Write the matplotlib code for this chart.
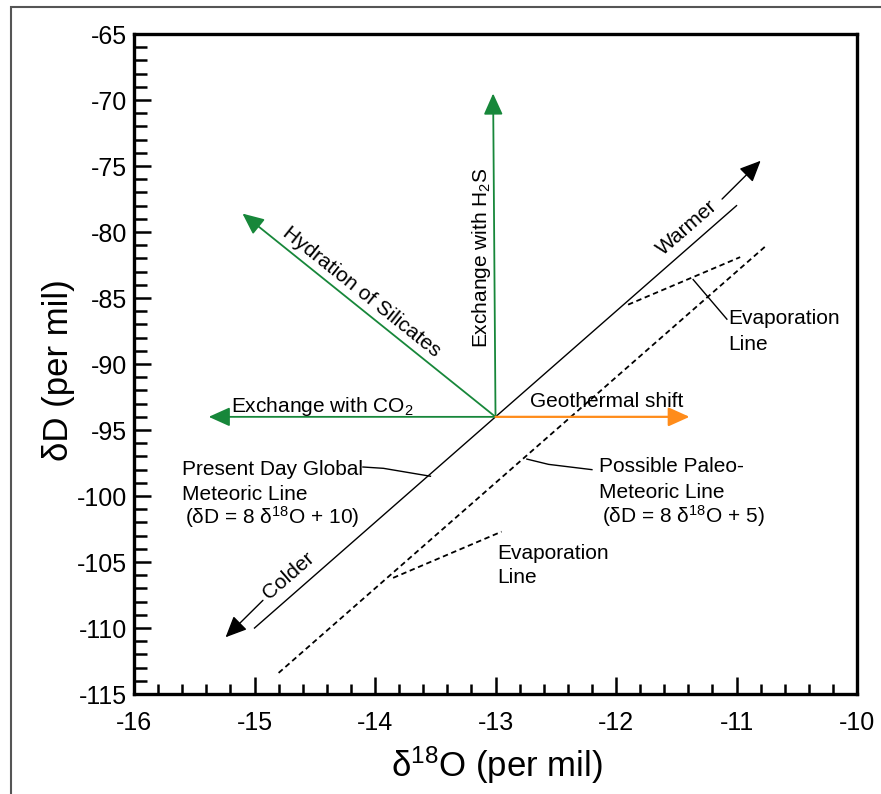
import matplotlib
matplotlib.use("Agg")
import matplotlib.pyplot as plt
from matplotlib.ticker import MultipleLocator
from matplotlib.patches import Rectangle

plt.rcParams['font.family'] = ['Liberation Sans', 'DejaVu Sans']
plt.rcParams['mathtext.fontset'] = 'custom'
plt.rcParams['mathtext.rm'] = 'Liberation Sans'
plt.rcParams['mathtext.default'] = 'regular'
plt.rcParams['axes.unicode_minus'] = False

# meteoric water lines (end points)
gmwl_x = [-15.0, -11.0]
gmwl_y = [-110.0, -78.0]
paleo_x = [-14.8, -10.75]
paleo_y = [-113.4, -81.0]

# evaporation lines
evap_upper_x = [-11.9, -10.97]
evap_upper_y = [-85.5, -81.9]
evap_lower_x = [-13.85, -12.95]
evap_lower_y = [-106.2, -102.7]

# process arrows from the common origin
origin = (-13.0, -94.0)
green_tips = [(-13.02, -69.5), (-15.1, -78.6), (-15.38, -94.0)]
geo_tip = (-11.39, -94.0)

# warmer / colder arrows (tail, tip)
warmer = [(-11.12, -77.5), (-10.80, -74.6)]
colder = [(-14.93, -107.9), (-15.24, -110.7)]

# leader lines
lead_gmwl = ([-14.10, -13.93, -13.54], [-97.8, -97.9, -98.5])
lead_paleo = ([-12.74, -12.56, -12.2], [-97.2, -97.6, -98.0])
lead_evap = ([-11.36, -11.08], [-83.6, -86.6])

green = '#17873a'
orange = '#ff8c1a'

fig = plt.figure(figsize=(8.81, 7.94), dpi=100)
ax = fig.add_axes([0.1521, 0.1259, 0.8207, 0.8312])

ax.plot(gmwl_x, gmwl_y, color='black', lw=1.0)
ax.plot(paleo_x, paleo_y, color='black', lw=1.3, linestyle=(0, (3, 2)))
ax.plot(evap_upper_x, evap_upper_y, color='black', lw=1.3, linestyle=(0, (3, 2)))
ax.plot(evap_lower_x, evap_lower_y, color='black', lw=1.3, linestyle=(0, (3, 2)))

for xs, ys in (lead_gmwl, lead_paleo, lead_evap):
    ax.plot(xs, ys, color='black', lw=1.0)

head = "-|>,head_length=1.0,head_width=0.45"
for tip in green_tips:
    ax.annotate("", xy=tip, xytext=origin,
                arrowprops=dict(arrowstyle=head, mutation_scale=13, color=green,
                                lw=1.3, shrinkA=0, shrinkB=0))
ax.annotate("", xy=geo_tip, xytext=origin,
            arrowprops=dict(arrowstyle=head, mutation_scale=13, color=orange,
                            lw=1.6, shrinkA=0, shrinkB=0))
for tail, tip in (warmer, colder):
    ax.annotate("", xy=tip, xytext=tail,
                arrowprops=dict(arrowstyle=head, mutation_scale=13, color='black',
                                lw=1.0, shrinkA=0, shrinkB=0))

fs = 15
ax.text(-15.195, -93.64, "Exchange with CO$_2$", fontsize=fs, va='baseline')
ax.text(-12.714, -93.26, "Geothermal shift", fontsize=fs, va='baseline')
ax.text(-13.07, -81.97, "Exchange with H$_2$S", fontsize=fs, rotation=90,
        ha='center', va='baseline', rotation_mode='anchor')
ax.text(-14.116, -84.55, "Hydration of Silicates", fontsize=fs, rotation=-38.7,
        ha='center', va='center', rotation_mode='anchor')
ax.text(-11.41, -79.7, "Warmer", fontsize=fs, rotation=41,
        ha='center', va='center', rotation_mode='anchor')
ax.text(-14.714, -106.06, "Colder", fontsize=fs, rotation=41,
        ha='center', va='center', rotation_mode='anchor')

ax.text(-15.602, -98.41, "Present Day Global", fontsize=fs, va='baseline')
ax.text(-15.602, -100.30, "Meteoric Line", fontsize=fs, va='baseline')
ax.text(-15.577, -102.12, "(δD = 8 δ$^{18}$O + 10)", fontsize=fs, va='baseline')

ax.text(-12.141, -98.18, "Possible Paleo-", fontsize=fs, va='baseline')
ax.text(-12.141, -100.15, "Meteoric Line", fontsize=fs, va='baseline')
ax.text(-12.116, -102.05, "(δD = 8 δ$^{18}$O + 5)", fontsize=fs, va='baseline')

ax.text(-11.071, -86.97, "Evaporation", fontsize=fs, va='baseline')
ax.text(-11.071, -88.94, "Line", fontsize=fs, va='baseline')
ax.text(-12.988, -104.77, "Evaporation", fontsize=fs, va='baseline')
ax.text(-12.988, -106.59, "Line", fontsize=fs, va='baseline')

ax.set_xlim(-16, -10)
ax.set_ylim(-115, -65)
ax.xaxis.set_major_locator(MultipleLocator(1))
ax.xaxis.set_minor_locator(MultipleLocator(0.2))
ax.yaxis.set_major_locator(MultipleLocator(5))
ax.yaxis.set_minor_locator(MultipleLocator(1))
ax.tick_params(which='both', direction='in', top=False, right=False, width=1.8)
ax.tick_params(axis='y', which='major', length=12, labelsize=18, pad=5)
ax.tick_params(axis='y', which='minor', length=9)
ax.tick_params(axis='x', which='major', length=12, labelsize=18, pad=12)
ax.tick_params(axis='x', which='minor', length=7)
for sp in ax.spines.values():
    sp.set_linewidth(2.4)

ax.set_xlabel("δ$^{18}$O (per mil)", fontsize=25)
ax.set_ylabel("δD (per mil)", fontsize=25)
ax.xaxis.set_label_coords(0.502, -0.077)
ax.yaxis.set_label_coords(-0.0816, 0.491)

# frame around the figure
fig.add_artist(Rectangle((11 / 881, -0.1), 2.0, 1.1 - 7 / 794, fill=False,
                         lw=1.5, edgecolor='#555555', transform=fig.transFigure))

fig.savefig("out.png", dpi=100)
